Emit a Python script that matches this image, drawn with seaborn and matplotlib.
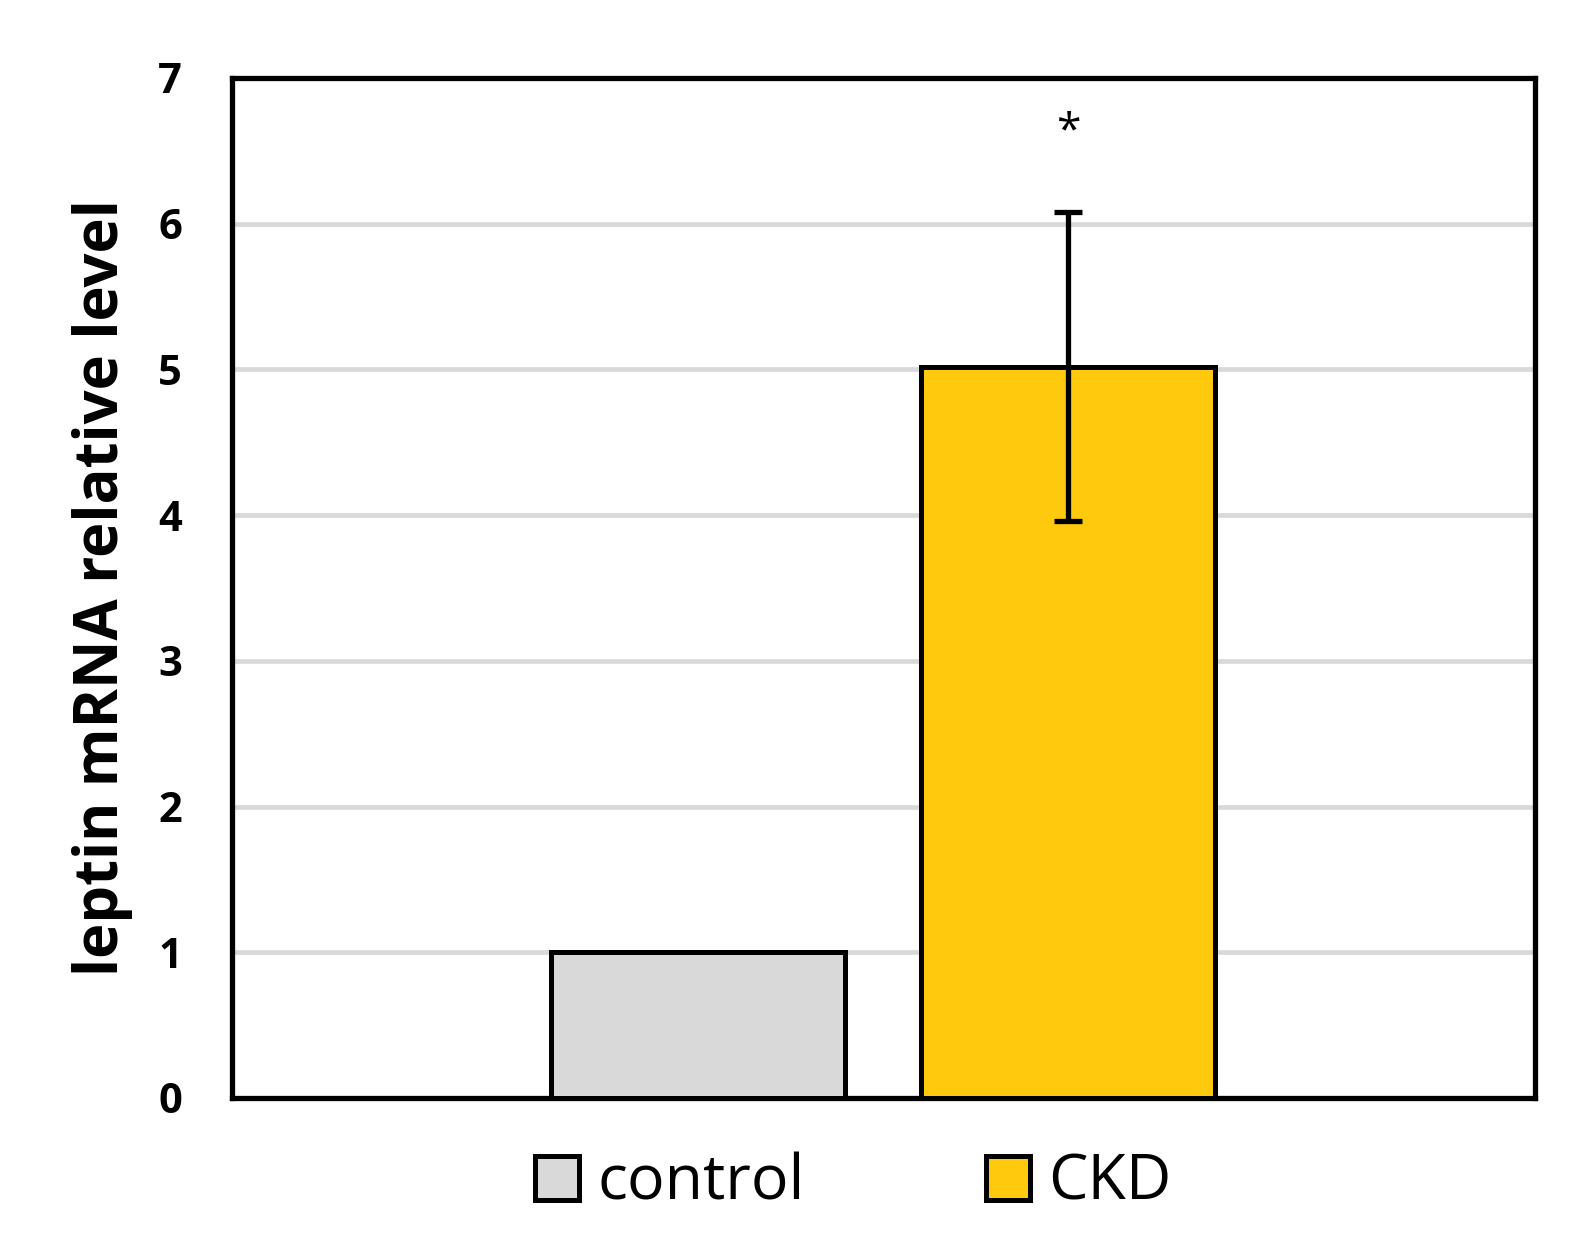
import numpy as np
import pandas as pd
import matplotlib.pyplot as plt
import seaborn as sns
from matplotlib.patches import Patch

groups = ['control', 'CKD']
means = [1.0, 5.02]
errs = [0.0, 1.06]
colors = ['#d9d9d9', '#ffc90e']
yticks = [0, 1, 2, 3, 4, 5, 6, 7]
ylabel = 'leptin mRNA relative level'
star = '*'

sns.set_style('white')
plt.rcParams['font.family'] = ['Open Sans', 'DejaVu Sans']
plt.rcParams['text.color'] = 'black'

df = pd.DataFrame({'group': groups, 'value': means})

fig = plt.figure(figsize=(15.89, 12.46), dpi=100)
ax = fig.add_axes([0.146, 0.1188, 0.82, 0.8186])
sns.barplot(data=df, x='group', y='value', hue='group', order=groups, hue_order=groups,
            palette=colors, saturation=1, width=0.795, errorbar=None,
            edgecolor='black', linewidth=3.6, legend=False, ax=ax, zorder=3)

# error bars + significance mark at bar centres
for p, e in zip(ax.patches, errs):
    if e > 0:
        cx = p.get_x() + p.get_width() / 2
        ax.errorbar(cx, p.get_height(), yerr=e, color='black', lw=3.8,
                    capsize=10, capthick=3.8, zorder=4)
        ax.text(cx, p.get_height() + e + 0.55, star, ha='center', va='center',
                fontsize=32, color='black')

ax.set_xlim(-1.259, 2.262)
ax.set_ylim(0, 7)
ax.set_yticks(yticks)
ax.set_yticklabels([str(t) for t in yticks], fontsize=30, fontweight='bold', color='black')
ax.tick_params(axis='y', length=0, pad=36)
ax.set_xticks([])
ax.set_xlabel('')
ax.set_ylabel(ylabel, fontsize=43, fontweight='bold', labelpad=18, color='black')
ax.grid(axis='y', color='#d9d9d9', lw=3.4, zorder=0)
ax.set_axisbelow(True)
for s in ax.spines.values():
    s.set_color('black')
    s.set_linewidth(3.8)

handles = [Patch(facecolor=c, edgecolor='black', linewidth=3.6, label=g)
           for g, c in zip(groups, colors)]
leg = fig.legend(handles=handles, loc='center', bbox_to_anchor=(0.537, 0.05), ncol=2,
                 frameon=False, fontsize=45, handlelength=0.7, handleheight=0.7,
                 handletextpad=0.3, columnspacing=2.9)
for t in leg.get_texts():
    t.set_color('black')

fig.savefig('out.png', dpi=100)
